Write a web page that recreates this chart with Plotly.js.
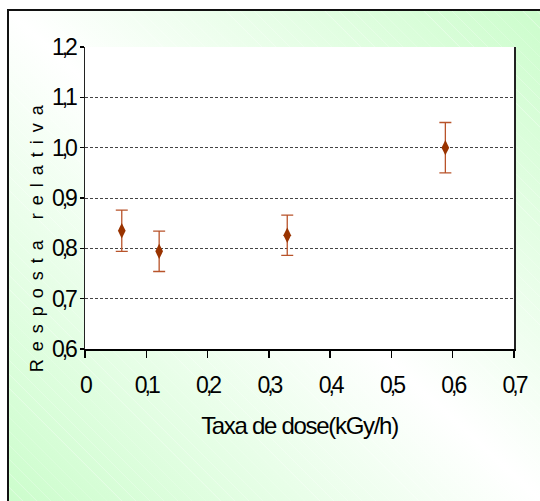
<!DOCTYPE html>
<html>
<head>
<meta charset="utf-8">
<script src="https://cdn.plot.ly/plotly-3.0.1.min.js"></script>
<style>
  html, body { margin: 0; padding: 0; background: #ffffff; }
  #frame {
    position: absolute; left: 7px; top: 9px; width: 533px; height: 490px;
    border-left: 2px solid #111; border-top: 2px solid #111; border-bottom: 1px solid #999;
    background:
      repeating-linear-gradient(45deg, rgba(255,255,255,0) 0px, rgba(255,255,255,0) 9px, rgba(255,255,255,0.35) 10px),
      linear-gradient(to top right, #ccfdcc 0%, #ffffff 50%, #ccfdcc 100%);
  }
  #chart { position: absolute; left: 0; top: 0; width: 540px; height: 501px; }
  .xtick text, .ytick text { letter-spacing: -3px; }
  .xtitle { letter-spacing: -1.3px; }
  .annotation-text { letter-spacing: 8px; }
</style>
</head>
<body>
<div id="frame"></div>
<div id="chart"></div>
<script>
// Data
const doseRate = [0.06, 0.121, 0.33, 0.588];
const relResponse = [0.835, 0.794, 0.826, 1.0];
const errValues = [0.041, 0.040, 0.040, 0.050];

const xTickVals = [0, 0.1, 0.2, 0.3, 0.4, 0.5, 0.6, 0.7];
const xTickText = ['0', '0,1', '0,2', '0,3', '0,4', '0,5', '0,6', '0,7'];
const yTickVals = [0.6, 0.7, 0.8, 0.9, 1.0, 1.1, 1.2];
const yTickText = ['0,6', '0,7', '0,8', '0,9', '1,0', '1,1', '1,2'];

const xTitle = 'Taxa de dose(kGy/h)';
const yTitle = 'Resposta relativa';

const trace = {
  x: doseRate,
  y: relResponse,
  type: 'scatter',
  mode: 'markers',
  marker: { symbol: 'diamond-tall', size: 11, color: '#993300' },
  error_y: { type: 'data', array: errValues, visible: true, color: '#b8532a', thickness: 1.3, width: 6 },
  hoverinfo: 'x+y'
};

const font = 'Liberation Sans, Arial, sans-serif';

const layout = {
  width: 540, height: 501,
  margin: { l: 84.5, r: 26, t: 47, b: 152, pad: 0 },
  paper_bgcolor: 'rgba(0,0,0,0)',
  plot_bgcolor: '#ffffff',
  showlegend: false,
  font: { family: font, color: '#000000' },
  xaxis: {
    range: [0, 0.7],
    tickvals: xTickVals, ticktext: xTickText,
    ticks: 'outside', ticklen: 7, tickwidth: 1.3, tickcolor: '#000',
    showline: true, linecolor: '#000', linewidth: 1.5,
    showgrid: false, zeroline: false,
    tickfont: { size: 23, family: font, color: '#000' },
    ticklabelstandoff: 8,
    title: { text: xTitle, font: { size: 24, family: font, color: '#000' }, standoff: 20 }
  },
  yaxis: {
    range: [0.6, 1.2],
    tickvals: yTickVals, ticktext: yTickText,
    ticks: 'outside', ticklen: 4, tickwidth: 1.3, tickcolor: '#000',
    showline: true, linecolor: '#222', linewidth: 1.5, mirror: true,
    showgrid: true, gridcolor: '#444', gridwidth: 1, griddash: '3px,2px',
    zeroline: false,
    tickfont: { size: 23, family: font, color: '#000' },
    ticklabelstandoff: 0
  },
  annotations: [{
    text: yTitle, xref: 'paper', yref: 'paper',
    x: -0.112, y: 0.38, xanchor: 'center', yanchor: 'middle',
    textangle: -90, showarrow: false,
    font: { size: 18, family: font, color: '#000' }
  }]
};

Plotly.newPlot('chart', [trace], layout, { displayModeBar: false, staticPlot: true });
</script>
</body>
</html>
